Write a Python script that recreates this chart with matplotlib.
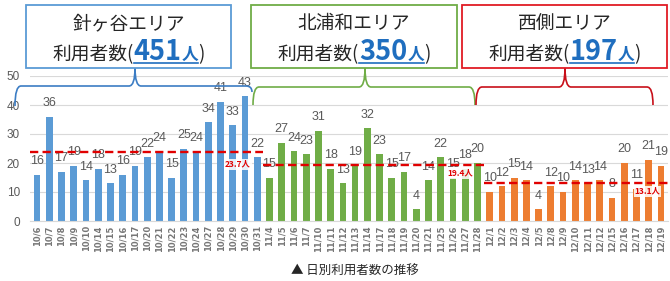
import matplotlib
matplotlib.use("Agg")
import matplotlib.pyplot as plt
from matplotlib.path import Path
from matplotlib.patches import PathPatch, Rectangle
from matplotlib import font_manager
import numpy as np

plt.rcParams['font.family'] = ['Noto Sans CJK JP', 'DejaVu Sans']

# ---------------- data ----------------
dates_a = ["10/6", "10/7", "10/8", "10/9", "10/10", "10/14", "10/15", "10/16", "10/17",
           "10/20", "10/21", "10/22", "10/23", "10/24", "10/27", "10/28", "10/29", "10/30", "10/31"]
values_a = [16, 36, 17, 19, 14, 18, 13, 16, 19, 22, 24, 15, 25, 24, 34, 41, 33, 43, 22]

dates_b = ["11/4", "11/5", "11/6", "11/7", "11/10", "11/11", "11/12", "11/13", "11/14",
           "11/17", "11/18", "11/19", "11/20", "11/21", "11/25", "11/26", "11/27", "11/28"]
values_b = [15, 27, 24, 23, 31, 18, 13, 19, 32, 23, 15, 17, 4, 14, 22, 15, 18, 20]

dates_c = ["12/1", "12/2", "12/3", "12/4", "12/5", "12/8", "12/9", "12/10", "12/11",
           "12/12", "12/15", "12/16", "12/17", "12/18", "12/19"]
values_c = [10, 12, 15, 14, 4, 12, 10, 14, 13, 14, 8, 20, 11, 21, 19]

area_names = ["針ヶ谷エリア", "北浦和エリア", "西側エリア"]
area_totals = ["451", "350", "197"]
avg_labels = ["23.7人", "19.4人", "13.1人"]
caption = "▲ 日別利用者数の推移"

yticks = [0, 10, 20, 30, 40, 50]

colors = ["#5B9BD5", "#70AD47", "#ED7D31"]
box_colors = ["#5B9BD5", "#70AD47", "#E01B24"]
brace_colors = ["#3C7DC4", "#70AD47", "#C8101A"]

W, H = 670, 281
fig = plt.figure(figsize=(W / 100, H / 100), dpi=100)

def fx(px):
    return px / W

def fy(py):
    return 1 - py / H

installed = {f.name for f in font_manager.fontManager.ttflist}
num_font = ['Liberation Sans Narrow'] if 'Liberation Sans Narrow' in installed else ['Liberation Sans']

ax_left, ax_right = 29.7, 668.3
ax_top, ax_bot = 76, 221
ax = fig.add_axes([fx(ax_left), fy(ax_bot), fx(ax_right - ax_left), (ax_bot - ax_top) / H])

groups = [(dates_a, values_a), (dates_b, values_b), (dates_c, values_c)]
all_dates = []
start = 0
for gi, (d, v) in enumerate(groups):
    x = np.arange(start, start + len(d))
    ax.bar(x, v, width=0.55, color=colors[gi], zorder=2)
    for xi, vi in zip(x, v):
        ax.annotate(str(vi), (xi, vi), xytext=(0, 5.5), textcoords="offset points",
                    ha="center", va="bottom", fontsize=9, color="#595959",
                    family=num_font, zorder=3)
    all_dates += d
    start += len(d)

# average lines
bounds = [(-0.6, 18.5), (18.5, 36.5), (36.5, 51.6)]
label_pos = [(16.4, 19.6), (34.6, 16.4), (49.9, 10.3)]
for gi, (d, v) in enumerate(groups):
    m = np.mean(v)
    ax.plot(bounds[gi], [m, m], color="#E00000", lw=1.7, ls=(0, (3.5, 1.8)), zorder=4)
    lx, ly = label_pos[gi]
    ax.text(lx, ly, avg_labels[gi], ha="center", va="center", fontsize=6,
            color="#E00000", fontweight="bold", zorder=5,
            bbox=dict(boxstyle="square,pad=0.12", fc="white", ec="none", alpha=0.85))

ax.set_xlim(-0.6, len(all_dates) - 1 + 0.6)
ax.set_ylim(0, 50)
ax.set_yticks(yticks)
ax.set_yticklabels([str(t) for t in yticks], fontsize=8.5, color="#595959", family=num_font)
ax.set_xticks(np.arange(len(all_dates)))
ax.set_xticklabels(all_dates, rotation=90, fontsize=6, color="#767676", fontweight="bold",
                   family=['DejaVu Sans'])
ax.tick_params(axis="both", length=0)
ax.tick_params(axis="y", pad=7)
ax.tick_params(axis="x", pad=3)
ax.grid(axis="y", color="#D9D9D9", lw=0.8, zorder=0)
ax.set_axisbelow(True)
for s in ["left", "right", "top"]:
    ax.spines[s].set_visible(False)
ax.spines["bottom"].set_color("#D9D9D9")
ax.set_facecolor("none")

# ------------- header boxes --------------
boxes = [(26, 231), (251, 457), (462, 667)]
box_top, box_bot = 5, 68
for i, (x0, x1) in enumerate(boxes):
    fig.add_artist(Rectangle((fx(x0), fy(box_bot)), fx(x1 - x0), (box_bot - box_top) / H,
                             transform=fig.transFigure, fill=True, fc="white",
                             ec=box_colors[i], lw=1.3, zorder=5))

renderer = fig.canvas.get_renderer()
for i, (x0, x1) in enumerate(boxes):
    cx = (x0 + x1) / 2
    fig.text(fx(cx), fy(24), area_names[i], ha="center", va="center", fontsize=13.5,
             color="#262626", zorder=6)
    parts = [("利用者数(", 13.5, "#262626", "normal"),
             (area_totals[i], 19.5, "#1F6EBF", "semibold"),
             ("人", 12, "#1F6EBF", "bold"),
             (")", 13.5, "#262626", "normal")]
    texts = []
    widths = []
    for s, fs, c, fw in parts:
        t = fig.text(0, fy(52), s, ha="left", va="baseline", fontsize=fs, color=c,
                     fontweight=fw, zorder=6)
        texts.append(t)
    for t in texts:
        bb = t.get_window_extent(renderer=renderer)
        widths.append(bb.width)
    total = sum(widths)
    cur = cx - total / 2
    base_y = 60
    for t, w in zip(texts, widths):
        t.set_position((fx(cur), fy(base_y)))
        cur += w
    ux0 = cx - total / 2 + widths[0]
    ux1 = ux0 + widths[1] + widths[2]
    fig.add_artist(plt.Line2D([fx(ux0), fx(ux1)], [fy(63), fy(63)], transform=fig.transFigure,
                              color="#1F6EBF", lw=1.2, zorder=6))

# ------------- braces --------------
def brace(x0, x1, xc, yh, yt, ye0, ye1, color, r=6):
    verts = [(x0, ye0), (x0, yh), (x0 + r, yh),
             (xc - r, yh),
             (xc, yh), (xc, yt),
             (xc, yh), (xc + r, yh),
             (x1 - r, yh),
             (x1, yh), (x1, ye1)]
    codes = [Path.MOVETO, Path.CURVE3, Path.CURVE3,
             Path.LINETO,
             Path.CURVE3, Path.CURVE3,
             Path.CURVE3, Path.CURVE3,
             Path.LINETO,
             Path.CURVE3, Path.CURVE3]
    verts = [(fx(a), fy(b)) for a, b in verts]
    fig.add_artist(PathPatch(Path(verts, codes), transform=fig.transFigure, fill=False,
                             ec=color, lw=1.2, zorder=4))

brace(15, 252, 135, 86, 68, 106, 92, brace_colors[0])
brace(253, 475, 365, 87, 68, 105, 105, brace_colors[1])
brace(476, 653, 565, 87, 68, 105, 105, brace_colors[2])

fig.text(fx(355), fy(271), caption, ha="center", va="center", fontsize=9, color="#262626")

fig.savefig("out.png", dpi=100, facecolor="white")
